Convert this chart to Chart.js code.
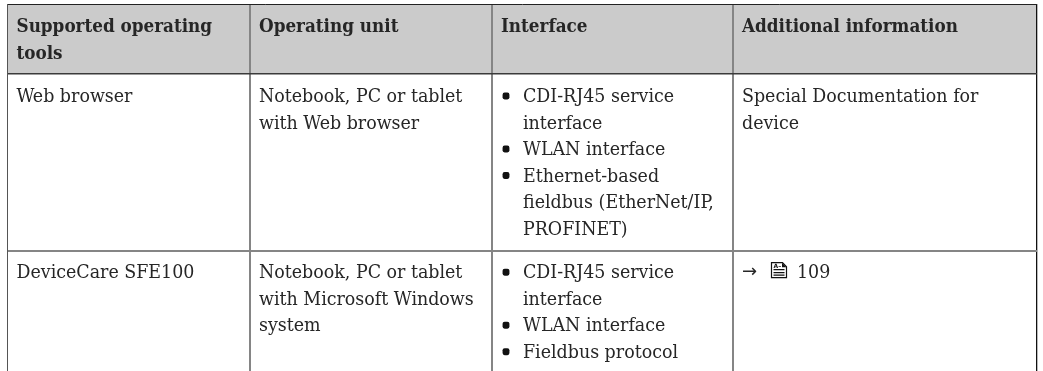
<!DOCTYPE html>
<html>
<head>
<meta charset="utf-8">
<style>
  html, body { margin: 0; padding: 0; background: #fff; }
  canvas { display: block; }
</style>
</head>
<body>
<canvas id="table" width="1043" height="371"></canvas>
<script src="https://cdn.jsdelivr.net/npm/chart.js@4/dist/chart.umd.js"></script>
<script>
// table edges, in the chart's own axis units
const columnEdges = [0, 242.5, 484.5, 725.5, 1029.5];
const rowEdges = [0, 70, 247];
const headerFillTo = [70];
const tableBottom = [367];

// cell text: one entry per column, one string per printed line
const headerCells = [
  ["Supported operating", "tools"],
  ["Operating unit"],
  ["Interface"],
  ["Additional information"]
];
const rowOneCells = [
  ["Web browser"],
  ["Notebook, PC or tablet", "with Web browser"],
  ["CDI-RJ45 service", "interface", "WLAN interface", "Ethernet-based", "fieldbus (EtherNet/IP,", "PROFINET)"],
  ["Special Documentation for", "device"]
];
const rowTwoCells = [
  ["DeviceCare SFE100"],
  ["Notebook, PC or tablet", "with Microsoft Windows", "system"],
  ["CDI-RJ45 service", "interface", "WLAN interface", "Fieldbus protocol"],
  []
];
const pageRefArrow = "→";
const pageRefLabel = "109";
const pageRefIconLabel = "A–";

// line index of each bullet inside the interface column
const rowOneBullets = [0, 2, 3];
const rowTwoBullets = [0, 2, 3];

const TEXT_INSET = 9;
const BULLET_INSET = 14;
const BULLET_TEXT_INSET = 31;
const LINE_PITCH = 26.5;
const HEADER_BASELINE = 28;
const ROW_ONE_BASELINE = 28;
const ROW_TWO_BASELINE = 27.2;
const INK = "#262626";
const SERIF = '"DejaVu Serif Condensed", "DejaVu Serif", serif';

function bulletPoints(rowIndex, firstBaseline, lineIndexes) {
  return lineIndexes.map((line) => ({
    x: columnEdges[2] + BULLET_INSET,
    y: rowEdges[rowIndex] + firstBaseline + line * LINE_PITCH - 6
  }));
}

const cellText = {
  id: "cellText",
  afterDatasetsDraw(chart) {
    const { ctx, scales } = chart;
    const { x, y } = scales;

    function drawRow(cells, rowIndex, firstBaseline) {
      cells.forEach((lines, col) => {
        const inset = col === 2 && rowIndex > 0 ? BULLET_TEXT_INSET : TEXT_INSET;
        lines.forEach((text, i) => {
          ctx.fillText(
            text,
            x.getPixelForValue(columnEdges[col] + inset),
            y.getPixelForValue(rowEdges[rowIndex] + firstBaseline + i * LINE_PITCH)
          );
        });
      });
    }

    ctx.save();
    ctx.fillStyle = INK;
    ctx.textBaseline = "alphabetic";
    ctx.textAlign = "left";
    ctx.font = "bold 18.7px " + SERIF;
    drawRow(headerCells, 0, HEADER_BASELINE);
    ctx.font = "19.4px " + SERIF;
    drawRow(rowOneCells, 1, ROW_ONE_BASELINE);
    drawRow(rowTwoCells, 2, ROW_TWO_BASELINE);

    // page reference: arrow, document icon, page number
    const refX = x.getPixelForValue(columnEdges[3] + 38);
    const refBase = y.getPixelForValue(rowEdges[2] + ROW_TWO_BASELINE);
    ctx.fillText(pageRefLabel, refX + 26, refBase);
    ctx.font = '18px "DejaVu Sans ExtraLight", "DejaVu Sans", sans-serif';
    ctx.fillText(pageRefArrow, refX - 29, refBase - 1);
    ctx.strokeStyle = "#111";
    ctx.fillStyle = "#111";
    ctx.lineWidth = 1.2;
    ctx.beginPath();
    ctx.moveTo(refX + 0.5, refBase - 15.5);
    ctx.lineTo(refX + 11.5, refBase - 15.5);
    ctx.lineTo(refX + 15.5, refBase - 11.5);
    ctx.lineTo(refX + 15.5, refBase - 0.5);
    ctx.lineTo(refX + 0.5, refBase - 0.5);
    ctx.closePath();
    for (const dy of [-8.5, -5.5, -3]) {
      ctx.moveTo(refX + 2.5, refBase + dy);
      ctx.lineTo(refX + 13.5, refBase + dy);
    }
    ctx.stroke();
    ctx.beginPath();
    ctx.moveTo(refX + 11, refBase - 15.5);
    ctx.lineTo(refX + 15.5, refBase - 11);
    ctx.lineTo(refX + 11, refBase - 11);
    ctx.closePath();
    ctx.fill();
    ctx.font = "bold 6px " + '"DejaVu Sans", sans-serif';
    ctx.fillText(pageRefIconLabel, refX + 2.5, refBase - 10);
    ctx.restore();
  }
};

const xGrid = {
  color: (c) => {
    if (c.tick.value === columnEdges[4]) return "#111";
    return c.tick.value === 0 ? "#555" : "#858585";
  },
  lineWidth: (c) => {
    if (c.tick.value === columnEdges[4]) return 1.3;
    return c.tick.value === 0 ? 1 : 2;
  },
  drawTicks: false,
  z: 1
};

const yGrid = {
  color: (c) => {
    if (c.tick.value === rowEdges[0]) return "#222";
    return c.tick.value === rowEdges[1] ? "#3a3a3a" : "#858585";
  },
  lineWidth: (c) => {
    if (c.tick.value === rowEdges[0]) return 1;
    return c.tick.value === rowEdges[1] ? 1.5 : 2;
  },
  drawTicks: false,
  z: 1
};

new Chart(document.getElementById("table"), {
  type: "scatter",
  data: {
    datasets: [
      {
        label: "header",
        data: [{ x: columnEdges[0], y: rowEdges[0] }, { x: columnEdges[4], y: rowEdges[0] }],
        showLine: true,
        fill: { value: headerFillTo[0] },
        backgroundColor: "#cbcbcb",
        borderWidth: 0,
        pointRadius: 0
      },
      {
        label: "bullets",
        data: bulletPoints(1, ROW_ONE_BASELINE, rowOneBullets).concat(bulletPoints(2, ROW_TWO_BASELINE, rowTwoBullets)),
        pointStyle: "rectRounded",
        pointRadius: 4,
        backgroundColor: "#111",
        borderWidth: 0
      }
    ]
  },
  options: {
    responsive: false,
    animation: false,
    layout: { autoPadding: false, padding: { left: 7.5, right: 6, top: 4, bottom: 0 } },
    plugins: { legend: { display: false }, tooltip: { enabled: false } },
    scales: {
      x: {
        type: "linear",
        min: columnEdges[0],
        max: columnEdges[4],
        afterBuildTicks: (scale) => { scale.ticks = columnEdges.map((value) => ({ value })); },
        ticks: { display: false, autoSkip: false },
        border: { display: false },
        grid: xGrid
      },
      y: {
        type: "linear",
        reverse: true,
        min: 0,
        max: tableBottom[0],
        afterBuildTicks: (scale) => { scale.ticks = rowEdges.map((value) => ({ value })); },
        ticks: { display: false, autoSkip: false },
        border: { display: false },
        grid: yGrid
      }
    }
  },
  plugins: [cellText]
});
</script>
</body>
</html>
